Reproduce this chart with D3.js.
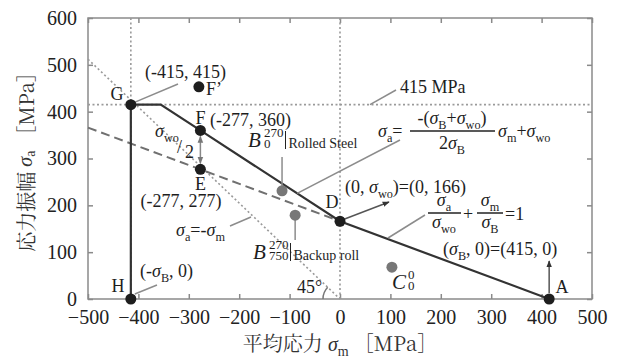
<!DOCTYPE html>
<html>
<head>
<meta charset="utf-8">
<script src="https://cdn.jsdelivr.net/npm/d3@7"></script>
<style>
  body { margin: 0; background: #fff; }
</style>
</head>
<body>
<div id="chart"></div>
<script>
// DATA
const xTicks = [-500, -400, -300, -200, -100, 0, 100, 200, 300, 400, 500];
const yTicks = [0, 100, 200, 300, 400, 500, 600];

// enveloppe (trait plein) H -> G -> palier -> F -> D -> A
const envelope = [
  { m: -415, a: 0 }, { m: -415, a: 415 }, { m: -355.7, a: 415 },
  { m: -277, a: 360 }, { m: 0, a: 166 }, { m: 415, a: 0 }
];
// droite en tirets E -> D
const dashedLine = [{ m: -500, a: 366 }, { m: 0, a: 166 }];
// droite sigma_a = -sigma_m (pointillés)
const diagLine = [{ m: -500, a: 512 }, { m: 0, a: 0 }];
// lignes de repère (pointillés)
const refVertical = [-415, 0];
const refHorizontal = [415];

// points noirs
const keyPoints = [
  { name: "G", m: -415, a: 415 },
  { name: "F", m: -277, a: 360 },
  { name: "E", m: -277, a: 277 },
  { name: "F'", m: -280, a: 453 },
  { name: "D", m: 0, a: 166 },
  { name: "H", m: -415, a: 0 },
  { name: "A", m: 415, a: 0 }
];
// points gris (essais)
const testPoints = [
  { name: "B270_0", m: -115, a: 231 },
  { name: "B270_750", m: -89, a: 179 },
  { name: "C0_0", m: 103, a: 68 }
];

// CONFIGURATION
const W = 618, H = 358;
const SERIF = "'Liberation Serif', 'Times New Roman', serif";
const MINCHO = "'Noto Serif CJK JP', 'Liberation Serif', serif";
const GRID = "#9a9a9a", FRAME = "#8a8a8a", LEADER = "#8c8c8c";

const x = d3.scaleLinear().domain([-500, 500]).range([88, 592]);
const y = d3.scaleLinear().domain([0, 600]).range([299, 18]);

const svg = d3.select("#chart").append("svg")
  .attr("width", W).attr("height", H);

const defs = svg.append("defs");
function marker(id, color) {
  defs.append("marker")
    .attr("id", id).attr("viewBox", "0 0 10 10")
    .attr("refX", 9).attr("refY", 5)
    .attr("markerWidth", 7).attr("markerHeight", 7)
    .attr("markerUnits", "userSpaceOnUse")
    .attr("orient", "auto-start-reverse")
    .append("path").attr("d", "M0,1 L10,5 L0,9 Z").attr("fill", color);
}
marker("arrowDark", "#333");
marker("arrowGray", "#777");

// AXES (ticks intérieurs sur les 4 côtés)
function styleAxis(g) {
  g.select(".domain").remove();
  g.selectAll(".tick line").attr("stroke", FRAME).attr("stroke-width", 1.5);
  g.selectAll(".tick text")
    .style("font-family", SERIF)
    .style("font-size", "20px").attr("fill", "#222");
}
svg.append("g").attr("transform", `translate(0,${y(0)})`)
  .call(d3.axisBottom(x).tickValues(xTicks).tickSizeInner(-5).tickSizeOuter(0).tickPadding(11))
  .call(styleAxis);
svg.append("g").attr("transform", `translate(${x(-500)},0)`)
  .call(d3.axisLeft(y).tickValues(yTicks).tickSizeInner(-5).tickSizeOuter(0).tickPadding(11))
  .call(styleAxis);
svg.append("g").attr("transform", `translate(0,${y(600)})`)
  .call(d3.axisTop(x).tickValues(xTicks).tickSizeInner(-5).tickSizeOuter(0).tickFormat(""))
  .call(styleAxis);
svg.append("g").attr("transform", `translate(${x(500)},0)`)
  .call(d3.axisRight(y).tickValues(yTicks).tickSizeInner(-5).tickSizeOuter(0).tickFormat(""))
  .call(styleAxis);

svg.append("rect")
  .attr("x", x(-500)).attr("y", y(600))
  .attr("width", x(500) - x(-500)).attr("height", y(0) - y(600))
  .attr("fill", "none").attr("stroke", FRAME).attr("stroke-width", 1.5);

// LIGNES DE REPERE
const plot = svg.append("g");
plot.selectAll("line.vref").data(refVertical).join("line")
  .attr("x1", d => x(d)).attr("x2", d => x(d))
  .attr("y1", y(0)).attr("y2", y(600))
  .attr("stroke", GRID).attr("stroke-width", 1.6).attr("stroke-dasharray", "2,2.5");
plot.selectAll("line.href").data(refHorizontal).join("line")
  .attr("x1", x(-500)).attr("x2", x(500))
  .attr("y1", d => y(d)).attr("y2", d => y(d))
  .attr("stroke", GRID).attr("stroke-width", 1.6).attr("stroke-dasharray", "2,2.5");

const line = d3.line().x(d => x(d.m)).y(d => y(d.a));

plot.append("path").datum(diagLine).attr("d", line)
  .attr("fill", "none").attr("stroke", GRID).attr("stroke-width", 1.6).attr("stroke-dasharray", "2,2.5");
plot.append("path").datum(dashedLine).attr("d", line)
  .attr("fill", "none").attr("stroke", "#707070").attr("stroke-width", 2).attr("stroke-dasharray", "9,5");
plot.append("path").datum(envelope).attr("d", line)
  .attr("fill", "none").attr("stroke", "#333").attr("stroke-width", 2.2);

// arc 45°
const ox = x(0), oy = y(0);
const dirX = x(diagLine[0].m) - ox, dirY = y(diagLine[0].a) - oy;
const ang = Math.atan2(dirY, dirX);
const r45 = 17;
const arcPath = d3.path();
arcPath.moveTo(ox - r45, oy);
arcPath.arc(ox, oy, r45, Math.PI, ang, false);
plot.append("path").attr("d", arcPath.toString())
  .attr("fill", "none").attr("stroke", "#777").attr("stroke-width", 1.5);

// LEADERS
function leader(x1, y1, x2, y2, color) {
  plot.append("line").attr("x1", x1).attr("y1", y1).attr("x2", x2).attr("y2", y2)
    .attr("stroke", color || LEADER).attr("stroke-width", 1.5);
}
const P = {};
keyPoints.forEach(d => P[d.name] = { x: x(d.m), y: y(d.a) });
const T = {};
testPoints.forEach(d => T[d.name] = { x: x(d.m), y: y(d.a) });

leader(P.G.x + 3, P.G.y - 2, 178, 84);
leader(P.H.x + 4, P.H.y - 5, 157, 285);
leader(370, y(415), 396, 90);
leader(x(-85), y(-0.7 * -85 + 166), 400, 140);
leader(T.B270_0.x, T.B270_0.y, T.B270_0.x, 157);
leader(T.B270_750.x, T.B270_750.y, T.B270_750.x, 240);
leader(230, 226, 251, 217);
leader(388, 238, 425, 215);

// flèches
plot.append("line")
  .attr("x1", P.D.x + 4).attr("y1", P.D.y - 2).attr("x2", 389).attr("y2", 202)
  .attr("stroke", "#555").attr("stroke-width", 1.5).attr("marker-end", "url(#arrowDark)");
plot.append("line")
  .attr("x1", P.A.x).attr("y1", P.A.y - 6).attr("x2", P.A.x).attr("y2", 261)
  .attr("stroke", "#555").attr("stroke-width", 1.5).attr("marker-end", "url(#arrowDark)");
plot.append("line")
  .attr("x1", P.F.x).attr("y1", P.F.y + 6).attr("x2", P.F.x).attr("y2", P.E.y - 6)
  .attr("stroke", "#888").attr("stroke-width", 1.5)
  .attr("marker-start", "url(#arrowGray)").attr("marker-end", "url(#arrowGray)");

// POINTS
plot.selectAll("circle.test").data(testPoints).join("circle")
  .attr("cx", d => x(d.m)).attr("cy", d => y(d.a)).attr("r", 5.5).attr("fill", "#777");
plot.selectAll("circle.key").data(keyPoints).join("circle")
  .attr("cx", d => x(d.m)).attr("cy", d => y(d.a)).attr("r", 5.5).attr("fill", "#1e1e1e");

// TEXTES
const txt = svg.append("g").attr("fill", "#1e1e1e");
function rich(px, py, segs, size, anchor) {
  size = size || 18;
  const t = txt.append("text").attr("x", px).attr("y", py)
    .attr("text-anchor", anchor || "start")
    .style("font-family", SERIF).style("font-size", size + "px");
  let shift = 0;
  segs.forEach(([s, k]) => {
    const target = k === "sub" ? size * 0.3 : k === "sup" ? -size * 0.4 : 0;
    const ts = t.append("tspan").attr("dy", target - shift).text(s);
    shift = target;
    if (k === "i") ts.style("font-style", "italic");
    if (k === "sub" || k === "sup") ts.style("font-size", (size * 0.68) + "px");
  });
  return t;
}
const sig = (sub) => [["σ", "i"], [sub, "sub"]];

rich(117, 100, [["G", "r"]], 18, "middle");
rich(145, 78, [["(-415, 415)", "r"]]);
rich(206, 95, [["F’", "r"]]);
rich(P.F.x, 124, [["F", "r"]], 18, "middle");
rich(210, 126, [["(-277, 360)", "r"]]);
rich(P.E.x, 190, [["E", "r"]], 18, "middle");
rich(181, 207, [["(-277, 277)", "r"]], 18, "middle");
rich(118, 292, [["H", "r"]], 18, "middle");
rich(140, 277, [["(-", "r"], ...sig("B"), [", 0)", "r"]]);
rich(332, 208, [["D", "r"]], 18, "middle");
rich(562, 293, [["A", "r"]], 18, "middle");
rich(400, 93, [["415 MPa", "r"]]);
rich(443, 255, [["(", "r"], ...sig("B"), [", 0)=(415, 0)", "r"]]);
rich(345, 193, [["(0, ", "r"], ...sig("wo"), [")=(0, 166)", "r"]]);
rich(176, 236, [...sig("a"), ["=-", "r"], ...sig("m")]);
rich(297, 293, [["45°", "r"]]);

// σwo / 2
rich(155, 137, sig("wo"));
rich(177, 153, [["/", "r"]], 18);
rich(185, 158, [["2", "r"]]);

// formule du haut
rich(378, 137, [...sig("a"), ["=", "r"]]);
rich(452, 124, [["-(", "r"], ...sig("B"), ["+", "r"], ...sig("wo"), [")", "r"]], 18, "middle");
leader(410, 131, 495, 131, "#222");
rich(452, 149, [["2", "r"], ...sig("B")], 18, "middle");
rich(498, 137, [...sig("m"), ["+", "r"], ...sig("wo")]);

// formule du bas
rich(444, 206, sig("a"), 18, "middle");
leader(428, 213, 461, 213, "#222");
rich(444, 228, sig("wo"), 18, "middle");
rich(463, 220, [["+", "r"]]);
rich(490, 206, sig("m"), 18, "middle");
leader(477, 213, 503, 213, "#222");
rich(490, 228, sig("B"), 18, "middle");
rich(505, 220, [["=1", "r"]]);

// B, C étiquettes
function tag(px, py, letter, sup, sub, label) {
  rich(px, py, [[letter, "i"]], 21);
  const sx = px + 16;
  txt.append("text").attr("x", sx).attr("y", py - 10)
    .style("font-family", SERIF).style("font-size", "13px").text(sup);
  txt.append("text").attr("x", sx).attr("y", py + 1)
    .style("font-family", SERIF).style("font-size", "13px").text(sub);
  if (label) {
    const bx = sx + (sup.length * 6.5) + 2;
    txt.append("line").attr("x1", bx).attr("x2", bx).attr("y1", py - 16).attr("y2", py + 2)
      .attr("stroke", "#222").attr("stroke-width", 1);
    txt.append("text").attr("x", bx + 3).attr("y", py + 1)
      .style("font-family", SERIF).style("font-size", "14px").text(label);
  }
}
tag(248, 147, "B", "270", "0", "Rolled Steel");
tag(253, 259, "B", "270", "750", "Backup roll");
tag(392, 289, "C", "0", "0", null);

// TITRES D'AXES
svg.append("text")
  .attr("x", 340).attr("y", 351).attr("text-anchor", "middle")
  .style("font-family", SERIF).style("font-size", "20px").attr("fill", "#333")
  .call(t => {
    t.append("tspan").style("font-family", MINCHO).text("平均応力 ");
    t.append("tspan").style("font-style", "italic").text("σ");
    t.append("tspan").attr("dy", 5).style("font-size", "14px").text("m");
    t.append("tspan").attr("dy", -5).style("font-family", MINCHO).text(" ［MPa］");
  });
svg.append("text")
  .attr("transform", "translate(25,157) rotate(-90)")
  .attr("text-anchor", "middle").attr("dominant-baseline", "central")
  .style("font-family", SERIF).style("font-size", "20px").attr("fill", "#333")
  .call(t => {
    t.append("tspan").style("font-family", MINCHO).text("応力振幅 ");
    t.append("tspan").style("font-style", "italic").text("σ");
    t.append("tspan").attr("dy", 5).style("font-size", "14px").text("a");
    t.append("tspan").attr("dy", -5).style("font-family", MINCHO).text(" ［MPa］");
  });
</script>
</body>
</html>
